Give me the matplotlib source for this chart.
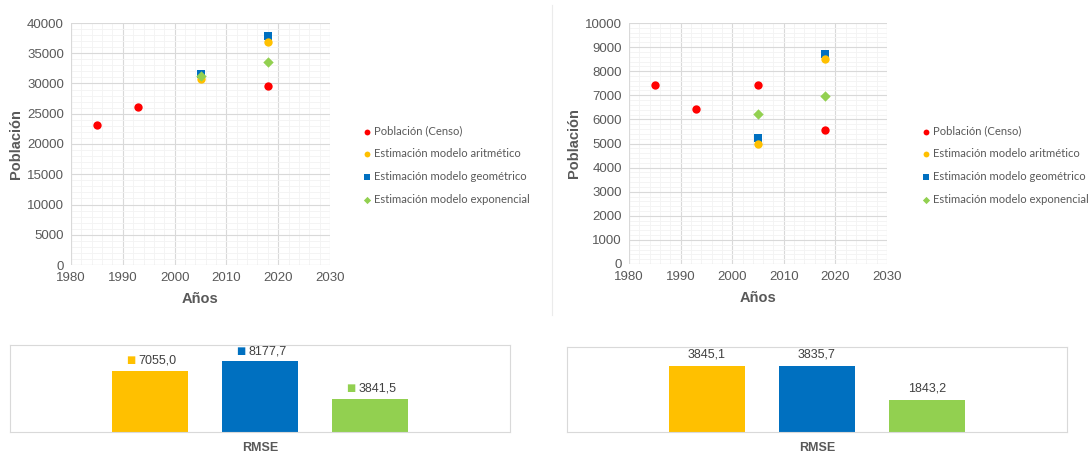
import matplotlib
matplotlib.use("Agg")
import matplotlib.pyplot as plt
from matplotlib.ticker import MultipleLocator

# ---------------- data ----------------
series_names = ["Población (Censo)", "Estimación modelo aritmético",
                "Estimación modelo geométrico", "Estimación modelo exponencial"]

censo_years = [1985, 1993, 2018]
censo_left = [23100, 26150, 29650]
est_years = [2005, 2018]
arit_left = [30750, 36800]
geom_left = [31650, 37900]
expo_left = [31200, 33550]

censo_years_r = [1985, 1993, 2005, 2018]
censo_right = [7440, 6450, 7440, 5570]
arit_right = [5000, 8500]
geom_right = [5210, 8710]
expo_right = [6230, 6960]

rmse_labels = ["aritmético", "geométrico", "exponencial"]
rmse_left = [7055.0, 8177.7, 3841.5]
rmse_right = [3845.1, 3835.7, 1843.2]

# ---------------- style ----------------
RED, YEL, BLU, GRN = "#FF0000", "#FFC000", "#0070C0", "#92D050"
TXT = "#595959"
W, H = 1089, 454
plt.rcParams["font.family"] = ["Liberation Sans", "DejaVu Sans"]

fig = plt.figure(figsize=(W / 100, H / 100), dpi=100)


def px_axes(x0, y0, x1, y1):
    return fig.add_axes([x0 / W, 1 - y1 / H, (x1 - x0) / W, (y1 - y0) / H])


def scatter_panel(ax, ymax, ystep, cy, cv, av, gv, ev):
    ax.set_xlim(1980, 2030)
    ax.set_ylim(0, ymax)
    ax.xaxis.set_major_locator(MultipleLocator(10))
    ax.xaxis.set_minor_locator(MultipleLocator(2))
    ax.yaxis.set_major_locator(MultipleLocator(ystep))
    ax.yaxis.set_minor_locator(MultipleLocator(ystep / 5))
    ax.grid(which="major", color="#D9D9D9", lw=0.8)
    ax.grid(which="minor", color="#F3F3F3", lw=0.6)
    ax.set_axisbelow(True)
    for s in ax.spines.values():
        s.set_visible(False)
    ax.tick_params(which="both", length=0, colors=TXT, labelsize=9.5, pad=5)
    ax.axhline(0, color="#D9D9D9", lw=0.8, zorder=1)
    ax.axvline(1980, color="#D9D9D9", lw=0.8, zorder=1)
    h1 = ax.scatter(cy, cv, s=36, marker="o", color=RED, zorder=3, linewidths=0)
    h2 = ax.scatter(est_years, av, s=36, marker="o", color=YEL, zorder=4.5, linewidths=0)
    h3 = ax.scatter(est_years, gv, s=40, marker="s", color=BLU, zorder=4, linewidths=0)
    h4 = ax.scatter(est_years, ev, s=28, marker="D", color=GRN, zorder=5, linewidths=0)
    ax.set_xlabel("Años", fontsize=10.5, fontweight="bold", color=TXT, labelpad=6)
    ax.set_ylabel("Población", fontsize=10.5, fontweight="bold", color=TXT, labelpad=3)
    return [h1, h2, h3, h4]


axL = px_axes(71, 23, 330, 265)
hL = scatter_panel(axL, 40000, 5000, censo_years, censo_left, arit_left, geom_left, expo_left)
axR = px_axes(629, 23, 887, 264)
hR = scatter_panel(axR, 10000, 1000, censo_years_r, censo_right, arit_right, geom_right, expo_right)

for handles, xpx in ((hL, 357), (hR, 916)):
    fig.legend(handles, series_names, loc="upper left",
               bbox_to_anchor=(xpx / W, 1 - 121 / H), frameon=False,
               prop={"family": "Lato", "size": 8.1}, labelcolor=TXT,
               handletextpad=0.15, labelspacing=1.05, markerscale=0.7,
               handlelength=1.0, borderaxespad=0)

# separator line between the two upper charts
fig.add_artist(plt.Line2D([552 / W, 552 / W], [1 - 5 / H, 1 - 315 / H],
                          color="#EBEBEB", lw=0.8))


def bar_panel(ax, vals, ymax, marker_labels):
    colors = [YEL, BLU, GRN]
    xs = [-1, 0, 1]
    ax.bar(xs, vals, width=0.69, color=colors)
    ax.set_xlim(-2.27, 2.27)
    ax.set_ylim(0, ymax)
    ax.set_yticks([])
    ax.set_xticks([0])
    ax.set_xticklabels(["RMSE"])
    ax.tick_params(length=0, colors=TXT, labelsize=9, pad=7)
    for lab in ax.get_xticklabels():
        lab.set_fontweight("bold")
    for s in ax.spines.values():
        s.set_color("#D9D9D9")
        s.set_linewidth(0.8)
    for x, v, c in zip(xs, vals, colors):
        txt = f"{v:.1f}".replace(".", ",")
        if marker_labels:
            ax.annotate(txt, (x, v), xytext=(-8, 3), textcoords="offset points",
                        ha="left", va="bottom", fontsize=9, color="#404040")
            ax.annotate("■", (x, v), xytext=(-14, 4), textcoords="offset points",
                        ha="center", va="bottom", fontsize=7, color=c,
                        family="DejaVu Sans")
        else:
            ax.annotate(txt, (x, v), xytext=(0, 4), textcoords="offset points",
                        ha="center", va="bottom", fontsize=9, color="#404040")


bar_panel(px_axes(10, 345, 510, 432), rmse_left, 10060, True)
bar_panel(px_axes(567, 347, 1067, 432), rmse_right, 4950, False)

fig.savefig("out.png", dpi=100, facecolor="white")
